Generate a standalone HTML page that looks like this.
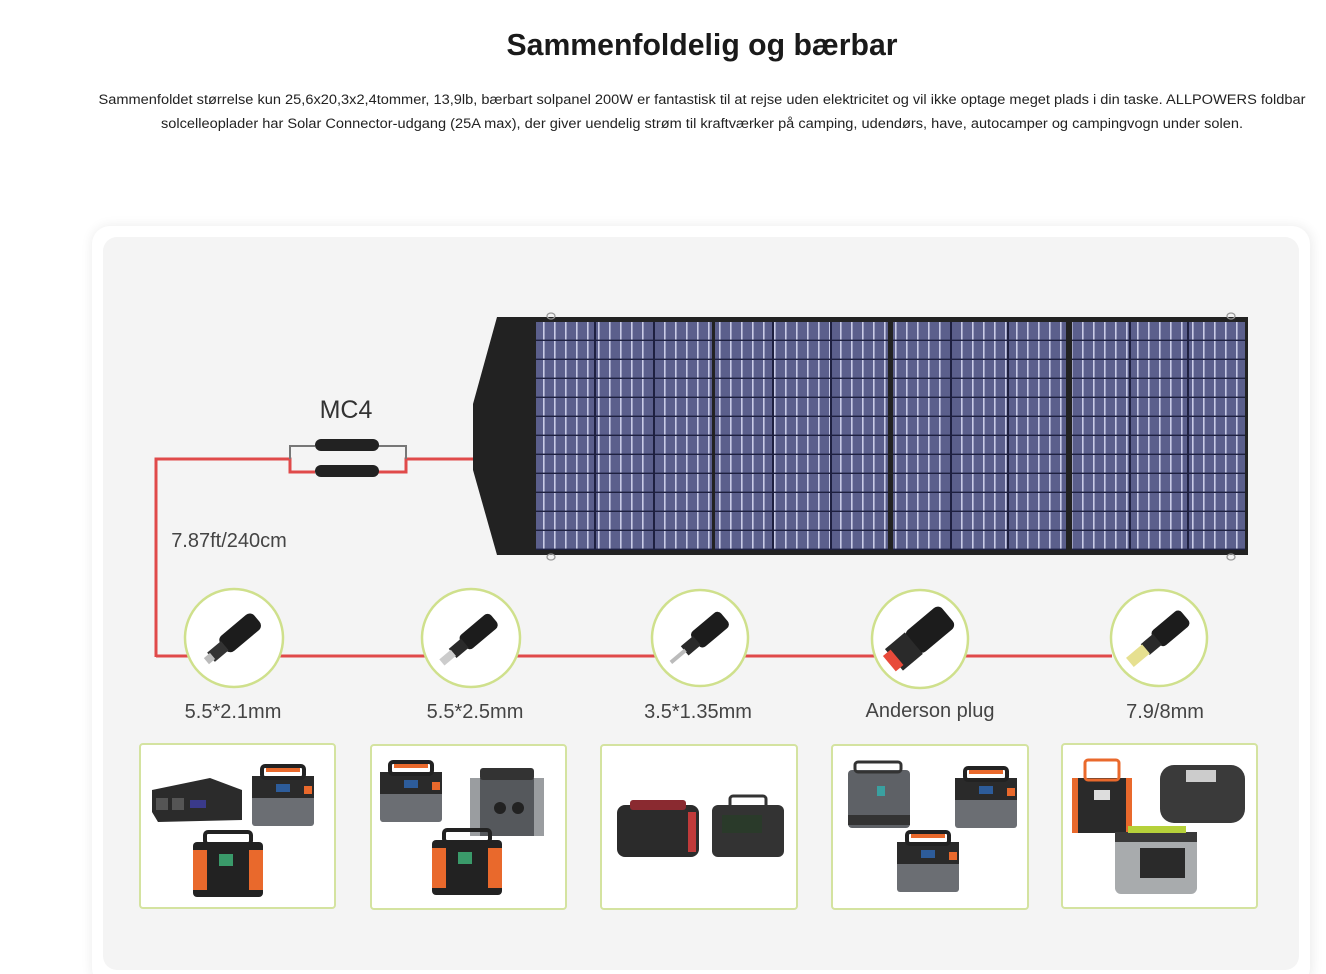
<!DOCTYPE html>
<html><head><meta charset="utf-8"><style>
html,body{margin:0;padding:0;background:#fff;width:1326px;height:974px;overflow:hidden}
svg{display:block}
text{font-family:"Liberation Sans Narrow","Liberation Sans",sans-serif}
</style></head><body>
<svg width="1326" height="974" viewBox="0 0 1326 974" xmlns="http://www.w3.org/2000/svg">
<defs>
<filter id="sh" x="-5%" y="-5%" width="110%" height="110%"><feGaussianBlur stdDeviation="6"/></filter>
<pattern id="cells" x="0" y="322" width="11" height="19" patternUnits="userSpaceOnUse">
<rect width="11" height="19" fill="#5b5f8c"/>
<rect x="4" width="1.6" height="19" fill="#c9cbe6"/>
<rect y="17.6" width="11" height="1.4" fill="#1e2040"/>
</pattern>
<g id="devA"><rect x="0" y="10" width="62" height="50" rx="3" fill="#6b6e73"/><rect x="0" y="10" width="62" height="22" fill="#2a2a2a"/><rect x="10" y="0" width="42" height="12" rx="3" fill="none" stroke="#222" stroke-width="4"/><rect x="14" y="2" width="34" height="4" fill="#e9692c"/><rect x="52" y="20" width="8" height="8" fill="#e9692c"/><rect x="24" y="18" width="14" height="8" fill="#2d5c9a"/></g>
<g id="devB"><rect x="0" y="10" width="70" height="55" rx="4" fill="#222"/><rect x="0" y="18" width="14" height="40" fill="#e9692c"/><rect x="56" y="18" width="14" height="40" fill="#e9692c"/><rect x="12" y="0" width="46" height="12" rx="3" fill="none" stroke="#222" stroke-width="4"/><rect x="26" y="22" width="14" height="12" fill="#3a9a6a"/></g>
<g id="devC"><rect x="0" y="10" width="74" height="58" rx="4" fill="#55585c"/><rect x="0" y="10" width="10" height="58" fill="#9a9da0"/><rect x="64" y="10" width="10" height="58" fill="#9a9da0"/><rect x="10" y="0" width="54" height="12" rx="3" fill="#333"/><circle cx="30" cy="40" r="6" fill="#222"/><circle cx="48" cy="40" r="6" fill="#222"/></g>
</defs>

<text x="702" y="55" text-anchor="middle" font-size="31" font-weight="bold" fill="#1a1a1a" textLength="391" lengthAdjust="spacingAndGlyphs">Sammenfoldelig og bærbar</text>
<text x="702" y="104" text-anchor="middle" font-size="13.5" fill="#222" textLength="1207" lengthAdjust="spacingAndGlyphs">Sammenfoldet størrelse kun 25,6x20,3x2,4tommer, 13,9lb, bærbart solpanel 200W er fantastisk til at rejse uden elektricitet og vil ikke optage meget plads i din taske. ALLPOWERS foldbar</text>
<text x="702" y="128" text-anchor="middle" font-size="13.5" fill="#222" textLength="1082" lengthAdjust="spacingAndGlyphs">solcelleoplader har Solar Connector-udgang (25A max), der giver uendelig strøm til kraftværker på camping, udendørs, have, autocamper og campingvogn under solen.</text>

<rect x="92" y="226" width="1220" height="760" rx="18" fill="#000" opacity="0.08" filter="url(#sh)"/>
<rect x="92" y="226" width="1218" height="760" rx="18" fill="#fff"/>
<rect x="103" y="237" width="1196" height="733" rx="14" fill="#f4f4f4"/>

<!-- wires -->
<g stroke="#e04a4a" stroke-width="3" fill="none">
<path d="M156 657 V459 H290 V472 H315"/>
<path d="M378 472 H406 V459 H474"/>
<path d="M156 656 H1112"/>
</g>
<path d="M290 459 V446 H315 M378 446 H406 V459" stroke="#777" stroke-width="2" fill="none"/>
<rect x="315" y="439" width="64" height="12" rx="6" fill="#222"/>
<rect x="315" y="465" width="64" height="12" rx="6" fill="#222"/>
<text x="346" y="418" text-anchor="middle" font-family="Liberation Sans,sans-serif" font-size="25" fill="#333" style="font-family:'Liberation Sans',sans-serif">MC4</text>
<text x="229" y="547" text-anchor="middle" font-size="20" fill="#444" style="font-family:'Liberation Sans',sans-serif">7.87ft/240cm</text>

<!-- solar panel -->
<polygon points="497,317 1248,317 1248,555 497,555 473,470 473,404" fill="#222"/>
<rect x="536" y="322" width="176" height="228" fill="url(#cells)"/>
<rect x="715" y="322" width="173" height="228" fill="url(#cells)"/>
<rect x="893" y="322" width="173" height="228" fill="url(#cells)"/>
<rect x="1072" y="322" width="173" height="228" fill="url(#cells)"/>
<g fill="#1e2040">
<rect x="594" y="322" width="2" height="228"/><rect x="653" y="322" width="2" height="228"/>
<rect x="772" y="322" width="2" height="228"/><rect x="830" y="322" width="2" height="228"/>
<rect x="950" y="322" width="2" height="228"/><rect x="1007" y="322" width="2" height="228"/>
<rect x="1129" y="322" width="2" height="228"/><rect x="1187" y="322" width="2" height="228"/>
</g>
<g fill="none" stroke="#999" stroke-width="1.3">
<ellipse cx="551" cy="316" rx="4" ry="3"/><ellipse cx="551" cy="557" rx="4" ry="3"/>
<ellipse cx="1231" cy="316" rx="4" ry="3"/><ellipse cx="1231" cy="557" rx="4" ry="3"/>
</g>

<!-- connectors -->
<g fill="#fff" stroke="#cfe08c" stroke-width="2.5">
<ellipse cx="234" cy="638" rx="49" ry="49"/>
<ellipse cx="471" cy="638" rx="49" ry="49"/>
<ellipse cx="700" cy="638" rx="48" ry="48"/>
<ellipse cx="920" cy="639" rx="48" ry="49"/>
<ellipse cx="1159" cy="638" rx="48" ry="48"/>
</g>
<g>
<g transform="translate(234,638) rotate(-40)"><rect x="-14" y="-10" width="44" height="20" rx="6" fill="#1c1c1c"/><rect x="-30" y="-6" width="18" height="12" fill="#333"/><rect x="-36" y="-4" width="8" height="8" fill="#bbb"/></g>
<g transform="translate(471,638) rotate(-40)"><rect x="-10" y="-9" width="40" height="18" rx="5" fill="#1c1c1c"/><rect x="-24" y="-6" width="16" height="12" fill="#2a2a2a"/><rect x="-38" y="-4" width="15" height="8" fill="#ccc"/></g>
<g transform="translate(700,638) rotate(-40)"><rect x="-6" y="-10" width="38" height="20" rx="5" fill="#1c1c1c"/><rect x="-20" y="-6" width="16" height="12" fill="#2a2a2a"/><rect x="-38" y="-2" width="19" height="4" fill="#bbb"/></g>
<g transform="translate(920,638) rotate(-40)"><rect x="-10" y="-14" width="46" height="28" rx="6" fill="#1c1c1c"/><rect x="-34" y="-14" width="26" height="28" fill="#2a2a2a"/><rect x="-40" y="-10" width="10" height="20" fill="#e84a3a"/></g>
<g transform="translate(1159,638) rotate(-40)"><rect x="-4" y="-10" width="38" height="20" rx="5" fill="#1c1c1c"/><rect x="-18" y="-7" width="16" height="14" fill="#2a2a2a"/><rect x="-38" y="-6" width="21" height="12" fill="#e6e090"/></g>
</g>
<g font-size="20" fill="#444" text-anchor="middle" style="font-family:'Liberation Sans',sans-serif">
<text x="233" y="718" style="font-family:'Liberation Sans',sans-serif">5.5*2.1mm</text>
<text x="475" y="718" style="font-family:'Liberation Sans',sans-serif">5.5*2.5mm</text>
<text x="698" y="718" style="font-family:'Liberation Sans',sans-serif">3.5*1.35mm</text>
<text x="930" y="717" style="font-family:'Liberation Sans',sans-serif">Anderson plug</text>
<text x="1165" y="718" style="font-family:'Liberation Sans',sans-serif">7.9/8mm</text>
</g>

<!-- device boxes -->
<g fill="#fff" stroke="#d4e3a0" stroke-width="2">
<rect x="140" y="744" width="195" height="164" rx="3"/>
<rect x="371" y="745" width="195" height="164" rx="3"/>
<rect x="601" y="745" width="196" height="164" rx="3"/>
<rect x="832" y="745" width="196" height="164" rx="3"/>
<rect x="1062" y="744" width="195" height="164" rx="3"/>
</g>
<!-- box 1 -->
<polygon points="152,790 210,778 242,790 242,820 158,822 152,812" fill="#2b2b2b"/>
<rect x="156" y="798" width="12" height="12" fill="#555"/><rect x="172" y="798" width="12" height="12" fill="#555"/><rect x="190" y="800" width="16" height="8" fill="#3a3a8a"/>
<use href="#devA" x="252" y="766"/>
<use href="#devB" x="193" y="832"/>
<!-- box 2 -->
<use href="#devA" x="380" y="762"/>
<use href="#devC" x="470" y="768"/>
<use href="#devB" x="432" y="830"/>
<!-- box 3 -->
<rect x="617" y="805" width="82" height="52" rx="8" fill="#2b2b2b"/><rect x="630" y="800" width="56" height="10" rx="3" fill="#8a2a30"/><rect x="688" y="812" width="8" height="40" fill="#c03a3a"/>
<rect x="712" y="805" width="72" height="52" rx="6" fill="#333"/><rect x="730" y="796" width="36" height="12" rx="3" fill="none" stroke="#333" stroke-width="3"/><rect x="722" y="815" width="40" height="18" fill="#2a3a2a"/>
<!-- box 4 -->
<rect x="848" y="770" width="62" height="58" rx="4" fill="#5e6166"/><rect x="855" y="762" width="46" height="10" rx="3" fill="none" stroke="#333" stroke-width="3"/><rect x="877" y="786" width="8" height="10" fill="#3aa0a0"/><rect x="848" y="815" width="62" height="10" fill="#333"/>
<use href="#devA" x="955" y="768"/>
<use href="#devA" x="897" y="832"/>
<!-- box 5 -->
<rect x="1072" y="778" width="60" height="55" fill="#2a2a2a"/><rect x="1072" y="778" width="6" height="55" fill="#e9692c"/><rect x="1126" y="778" width="6" height="55" fill="#e9692c"/><rect x="1085" y="760" width="34" height="20" rx="3" fill="none" stroke="#e9692c" stroke-width="3"/><rect x="1094" y="790" width="16" height="10" fill="#ddd"/>
<rect x="1160" y="765" width="85" height="58" rx="14" fill="#3a3a3a"/><rect x="1186" y="770" width="30" height="12" fill="#ccc"/>
<rect x="1115" y="832" width="82" height="62" rx="6" fill="#a8abad"/><rect x="1115" y="832" width="82" height="10" fill="#3a3a3a"/><rect x="1128" y="826" width="58" height="7" fill="#b6d13a"/><rect x="1140" y="848" width="45" height="30" fill="#2a2a2a"/>
</svg>
</body></html>
